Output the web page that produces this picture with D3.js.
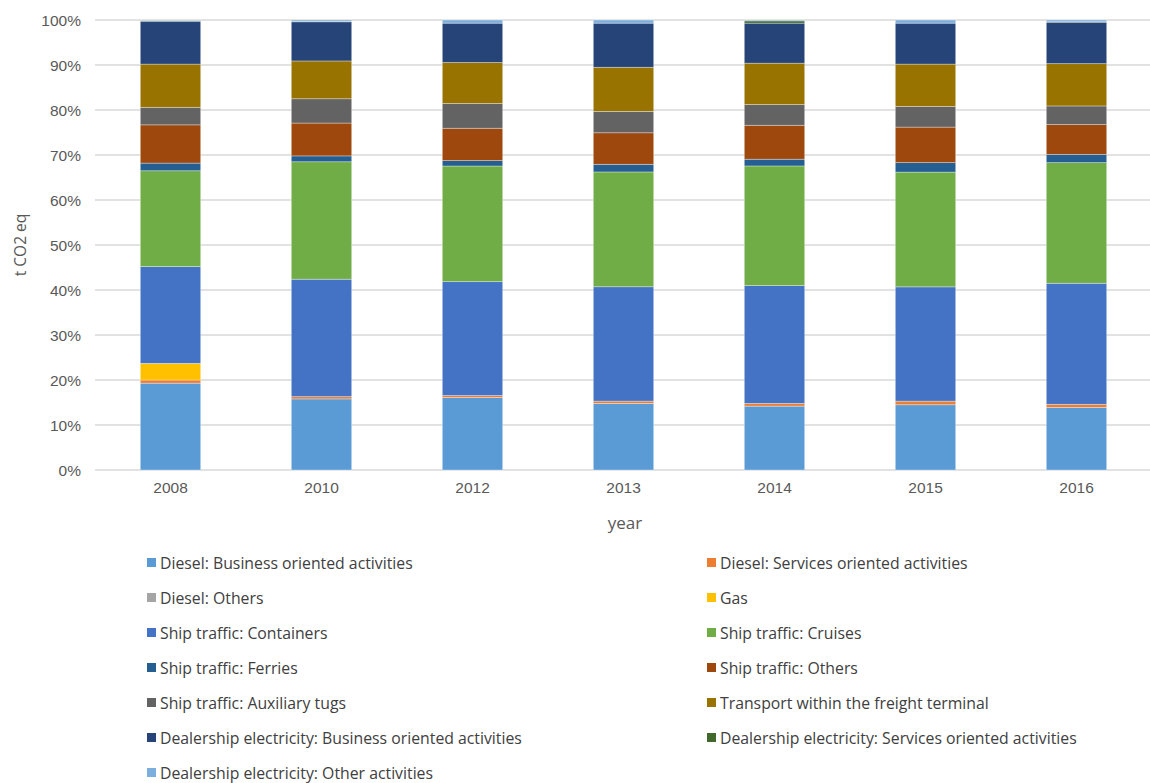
<!DOCTYPE html>
<html lang="en">
<head>
    <meta charset="UTF-8">
    <title>t CO2 eq by year</title>
    <style>
        body {
            margin: 0;
            background-color: #fff;
            font-family: "Open Sans", Arial, sans-serif;
        }
        .tick text {
            fill: #595959;
            font-size: 15.5px;
        }
        .legend text {
            fill: #404040;
            font-size: 15.8px;
        }
    </style>
</head>
<body>
    <svg id="chart" width="1150" height="783"></svg>
    <script src="https://d3js.org/d3.v7.min.js"></script>
    <script>
        // years on the x axis
        const years = ["2008", "2010", "2012", "2013", "2014", "2015", "2016"];

        const seriesNames = [
            "Diesel: Business oriented activities",
            "Diesel: Services oriented activities",
            "Diesel: Others",
            "Gas",
            "Ship traffic: Containers",
            "Ship traffic: Cruises",
            "Ship traffic: Ferries",
            "Ship traffic: Others",
            "Ship traffic: Auxiliary tugs",
            "Transport within the freight terminal",
            "Dealership electricity: Business oriented activities",
            "Dealership electricity: Services oriented activities",
            "Dealership electricity: Other activities"
        ];

        const seriesColors = ["#5B9BD5", "#ED7D31", "#A5A5A5", "#FFC000", "#4472C4", "#70AD47",
            "#255E91", "#9E480E", "#636363", "#997300", "#264478", "#43682B", "#7CAFDD"];

        // share of total per year (%), one array per series, same order as years
        const dieselBusiness   = [19.3, 15.8, 16.1, 14.8, 14.2, 14.5, 13.9];
        const dieselServices   = [0.7, 0.5, 0.45, 0.5, 0.6, 0.8, 0.7];
        const dieselOthers     = [0, 0, 0, 0, 0, 0, 0];
        const gas              = [3.7, 0, 0, 0, 0, 0, 0];
        const shipContainers   = [21.5, 26.1, 25.3, 25.4, 26.2, 25.4, 26.9];
        const shipCruises      = [21.3, 26.1, 25.7, 25.5, 26.6, 25.5, 26.8];
        const shipFerries      = [1.7, 1.3, 1.2, 1.7, 1.5, 2.1, 1.85];
        const shipOthers       = [8.5, 7.3, 7.2, 7.0, 7.55, 7.9, 6.6];
        const shipTugs         = [3.9, 5.4, 5.5, 4.75, 4.6, 4.6, 4.15];
        const freightTransport = [9.6, 8.4, 9.1, 9.8, 9.2, 9.4, 9.4];
        const elecBusiness     = [9.5, 8.7, 8.75, 9.8, 8.9, 9.1, 9.2];
        const elecServices     = [0.15, 0.1, 0, 0, 0.5, 0, 0.1];
        const elecOther        = [0.15, 0.3, 0.7, 0.7, 0.2, 0.7, 0.4];

        const seriesValues = [dieselBusiness, dieselServices, dieselOthers, gas, shipContainers,
            shipCruises, shipFerries, shipOthers, shipTugs, freightTransport,
            elecBusiness, elecServices, elecOther];

        // build table for d3.stack, normalised to 100%
        const table = years.map((y, i) => {
            const row = { year: y };
            const total = d3.sum(seriesValues, s => s[i]);
            seriesNames.forEach((n, k) => row[n] = seriesValues[k][i] / total);
            return row;
        });

        const svg = d3.select("#chart");
        const margin = { left: 95, right: 0, top: 20, bottom: 313 };

        const x = d3.scaleBand()
            .domain(years)
            .range([margin.left, 1152])
            .paddingInner(0.6)
            .paddingOuter(0.3);

        const y = d3.scaleLinear()
            .domain([0, 1])
            .range([470, 20]);

        // gridlines
        svg.append("g")
            .selectAll("line")
            .data(y.ticks(10))
            .join("line")
            .attr("x1", margin.left)
            .attr("x2", 1150)
            .attr("y1", d => y(d))
            .attr("y2", d => y(d))
            .attr("stroke", "#d9d9d9")
            .attr("stroke-width", 1.3);

        const stack = d3.stack().keys(seriesNames)(table);

        svg.append("g")
            .selectAll("g")
            .data(stack)
            .join("g")
            .attr("fill", (d, i) => seriesColors[i])
            .selectAll("rect")
            .data(d => d)
            .join("rect")
            .attr("x", d => x(d.data.year))
            .attr("width", x.bandwidth())
            .attr("y", d => y(d[1]))
            .attr("height", d => Math.max(0, y(d[0]) - y(d[1])))
            .attr("stroke", "rgba(255,255,255,0.45)")
            .attr("stroke-width", 0.75);

        // y axis
        const yAxis = svg.append("g")
            .attr("transform", `translate(${margin.left - 14},0)`)
            .call(d3.axisLeft(y).ticks(10, "%").tickSize(0))
            .call(g => g.select(".domain").remove());
        yAxis.selectAll("text").attr("dy", "0.35em").attr("x", 0);

        // x axis
        svg.append("g")
            .attr("transform", "translate(0,470)")
            .call(d3.axisBottom(x).tickSize(0).tickPadding(18))
            .call(g => g.select(".domain").remove())
            .selectAll("text").attr("dy", "0.35em");

        svg.append("text")
            .attr("x", 625)
            .attr("y", 529)
            .attr("text-anchor", "middle")
            .attr("fill", "#595959")
            .attr("font-size", 17)
            .text("year");

        svg.append("text")
            .attr("transform", "translate(26,245) rotate(-90)")
            .attr("text-anchor", "middle")
            .attr("fill", "#595959")
            .attr("font-size", 15.5)
            .text("t CO2 eq");

        // legend in two columns
        const legend = svg.append("g").attr("class", "legend")
            .selectAll("g")
            .data(seriesNames)
            .join("g")
            .attr("transform", (d, i) => `translate(${i % 2 === 0 ? 147 : 707},${563 + Math.floor(i / 2) * 35})`);

        legend.append("rect")
            .attr("x", 0)
            .attr("y", -5)
            .attr("width", 9)
            .attr("height", 9)
            .attr("fill", (d, i) => seriesColors[i]);

        legend.append("text")
            .attr("x", 13)
            .attr("dy", "0.35em")
            .text(d => d);
    </script>
</body>
</html>
